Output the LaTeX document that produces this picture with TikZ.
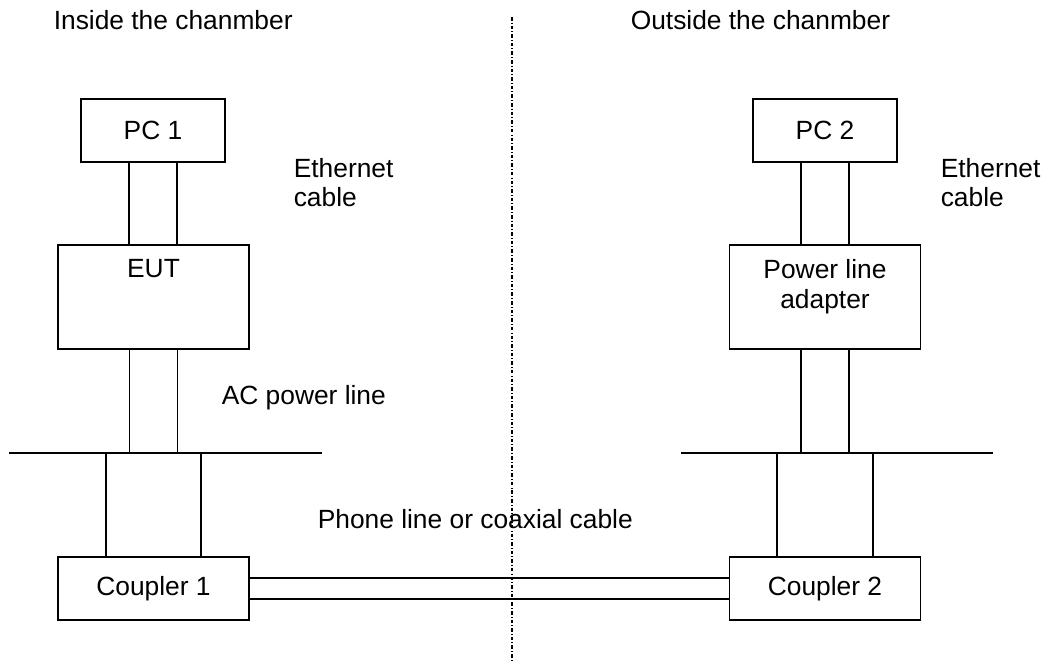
\documentclass[tikz,border=0pt]{standalone}
\usepackage{fontspec}
\setmainfont{Liberation Sans}
\usetikzlibrary{positioning}

\tikzset{
  box/.style={draw, inner sep=0pt, minimum width=3.82cm, minimum height=1.26cm},
  pcbox/.style={box, minimum width=2.88cm},
  tallbox/.style={box, minimum height=2.08cm},
  note/.style={anchor=base west, inner sep=0pt, align=left},
  wall/.style={line width=0.8pt, dash pattern=on 2pt off 1.2pt on 0.5pt off 1.2pt},
}

\begin{document}
\begin{tikzpicture}[x=0.02cm, y=-0.02cm, line width=0.9pt, font=\fontsize{15}{17}\selectfont]
  \useasboundingbox (0,0) rectangle (1050,661);

  % chamber wall
  \coordinate (wallTop) at (512,17);
  \coordinate (wallBot) at (512,661);
  \draw[wall] (wallTop) -- (wallBot);

  \node[note] (inLbl) at (53,30) {Inside the chanmber};
  \node[note] (outLbl) at (630,30) {Outside the chanmber};

  % inside the chamber
  \node[pcbox] (pc1) at (153,130.5) {PC 1};
  \node[tallbox, label={[anchor=north, yshift=-0.18cm]north:EUT}] (eut) at (153.5,297) {};
  \node[box] (cpl1) at (153.5,588.5) {Coupler 1};
  \coordinate (busL1) at (9,453);
  \coordinate (busL2) at (322,453);
  \draw (busL1) -- (busL2);

  \draw ([xshift=-0.48cm]pc1.south) -- ([xshift=-0.48cm]pc1.south |- eut.north);
  \draw ([xshift=0.48cm]pc1.south) -- ([xshift=0.48cm]pc1.south |- eut.north);
  \draw ([xshift=-0.48cm]eut.south) -- ([xshift=-0.48cm]eut.south |- busL1);
  \draw ([xshift=0.48cm]eut.south) -- ([xshift=0.48cm]eut.south |- busL1);
  \draw ([xshift=-0.95cm]cpl1.north) -- ([xshift=-0.95cm]cpl1.north |- busL1);
  \draw ([xshift=0.95cm]cpl1.north) -- ([xshift=0.95cm]cpl1.north |- busL1);

  \node[note] (ethL1) at (293,207) {Ethernet\\cable};
  \node[note] (acL) at (221,405) {AC power line};

  % outside the chamber
  \node[pcbox] (pc2) at (825,130.5) {PC 2};
  \node[tallbox, label={[anchor=north, yshift=-0.18cm, align=center]north:{Power line\\adapter}}] (pla) at (825,297) {};
  \node[box] (cpl2) at (825,588.5) {Coupler 2};
  \coordinate (busR1) at (681,453);
  \coordinate (busR2) at (993,453);
  \draw (busR1) -- (busR2);

  \draw ([xshift=-0.48cm]pc2.south) -- ([xshift=-0.48cm]pc2.south |- pla.north);
  \draw ([xshift=0.48cm]pc2.south) -- ([xshift=0.48cm]pc2.south |- pla.north);
  \draw ([xshift=-0.48cm]pla.south) -- ([xshift=-0.48cm]pla.south |- busR1);
  \draw ([xshift=0.48cm]pla.south) -- ([xshift=0.48cm]pla.south |- busR1);
  \draw ([xshift=-0.96cm]cpl2.north) -- ([xshift=-0.96cm]cpl2.north |- busR1);
  \draw ([xshift=0.96cm]cpl2.north) -- ([xshift=0.96cm]cpl2.north |- busR1);

  \node[note] (ethL2) at (940,207) {Ethernet\\cable};

  % phone line / coax between the couplers
  \draw ([yshift=0.21cm]cpl1.east) -- ([yshift=0.21cm]cpl2.west);
  \draw ([yshift=-0.21cm]cpl1.east) -- ([yshift=-0.21cm]cpl2.west);
  \node[note] (phL) at (317,528) {Phone line or coaxial cable};
\end{tikzpicture}
\end{document}
